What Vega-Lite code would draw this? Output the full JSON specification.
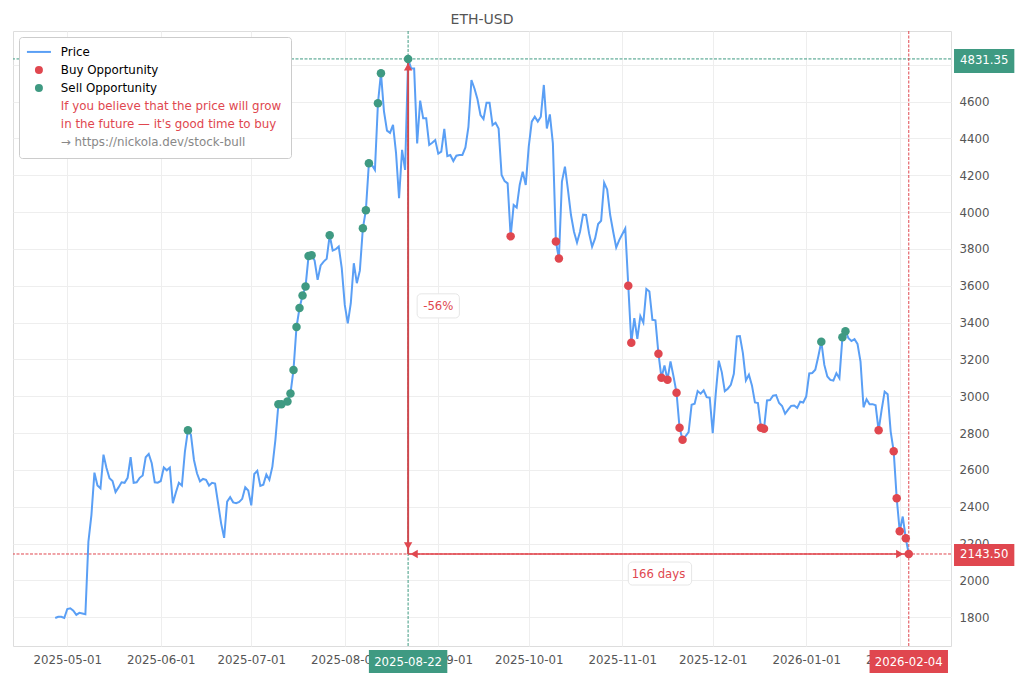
{
  "$schema": "https://vega.github.io/schema/vega-lite/v6.json",
  "autosize": {"type": "none"},
  "padding": {"left": 13, "top": 31, "right": 69, "bottom": 34},
  "width": 938,
  "height": 615,
  "background": "white",
  "title": {"text": "ETH-USD", "fontSize": 14, "fontWeight": "normal", "color": "#555555", "anchor": "middle", "offset": 4},
  "datasets": {
    "prices": [
      {"date":"2025-04-27","price":1796},{"date":"2025-04-28","price":1803},{"date":"2025-04-29","price":1803},{"date":"2025-04-30","price":1796},
      {"date":"2025-05-01","price":1845},{"date":"2025-05-02","price":1849},{"date":"2025-05-03","price":1836},{"date":"2025-05-04","price":1813},{"date":"2025-05-05","price":1824},{"date":"2025-05-06","price":1820},{"date":"2025-05-07","price":1816},{"date":"2025-05-08","price":2210},{"date":"2025-05-09","price":2355},{"date":"2025-05-10","price":2585},{"date":"2025-05-11","price":2515},{"date":"2025-05-12","price":2500},{"date":"2025-05-13","price":2683},{"date":"2025-05-14","price":2610},{"date":"2025-05-15","price":2555},{"date":"2025-05-16","price":2540},{"date":"2025-05-17","price":2480},{"date":"2025-05-18","price":2505},{"date":"2025-05-19","price":2533},{"date":"2025-05-20","price":2530},{"date":"2025-05-21","price":2557},{"date":"2025-05-22","price":2669},{"date":"2025-05-23","price":2530},{"date":"2025-05-24","price":2533},{"date":"2025-05-25","price":2557},{"date":"2025-05-26","price":2570},{"date":"2025-05-27","price":2669},{"date":"2025-05-28","price":2687},{"date":"2025-05-29","price":2636},{"date":"2025-05-30","price":2533},{"date":"2025-05-31","price":2531},
      {"date":"2025-06-01","price":2540},{"date":"2025-06-02","price":2613},{"date":"2025-06-03","price":2598},{"date":"2025-06-04","price":2613},{"date":"2025-06-05","price":2419},{"date":"2025-06-06","price":2477},{"date":"2025-06-07","price":2530},{"date":"2025-06-08","price":2515},{"date":"2025-06-09","price":2700},{"date":"2025-06-10","price":2815},{"date":"2025-06-11","price":2790},{"date":"2025-06-12","price":2654},{"date":"2025-06-13","price":2582},{"date":"2025-06-14","price":2538},{"date":"2025-06-15","price":2551},{"date":"2025-06-16","price":2546},{"date":"2025-06-17","price":2515},{"date":"2025-06-18","price":2530},{"date":"2025-06-19","price":2526},{"date":"2025-06-20","price":2419},{"date":"2025-06-21","price":2310},{"date":"2025-06-22","price":2231},{"date":"2025-06-23","price":2428},{"date":"2025-06-24","price":2452},{"date":"2025-06-25","price":2424},{"date":"2025-06-26","price":2419},{"date":"2025-06-27","price":2426},{"date":"2025-06-28","price":2443},{"date":"2025-06-29","price":2506},{"date":"2025-06-30","price":2488},
      {"date":"2025-07-01","price":2408},{"date":"2025-07-02","price":2578},{"date":"2025-07-03","price":2595},{"date":"2025-07-04","price":2513},{"date":"2025-07-05","price":2520},{"date":"2025-07-06","price":2575},{"date":"2025-07-07","price":2546},{"date":"2025-07-08","price":2618},{"date":"2025-07-09","price":2763},{"date":"2025-07-10","price":2957},{"date":"2025-07-11","price":2957},{"date":"2025-07-12","price":2965},{"date":"2025-07-13","price":2972},{"date":"2025-07-14","price":3015},{"date":"2025-07-15","price":3143},{"date":"2025-07-16","price":3376},{"date":"2025-07-17","price":3479},{"date":"2025-07-18","price":3547},{"date":"2025-07-19","price":3596},{"date":"2025-07-20","price":3762},{"date":"2025-07-21","price":3766},{"date":"2025-07-22","price":3737},{"date":"2025-07-23","price":3632},{"date":"2025-07-24","price":3710},{"date":"2025-07-25","price":3731},{"date":"2025-07-26","price":3746},{"date":"2025-07-27","price":3874},{"date":"2025-07-28","price":3791},{"date":"2025-07-29","price":3798},{"date":"2025-07-30","price":3813},{"date":"2025-07-31","price":3695},
      {"date":"2025-08-01","price":3496},{"date":"2025-08-02","price":3396},{"date":"2025-08-03","price":3505},{"date":"2025-08-04","price":3722},{"date":"2025-08-05","price":3614},{"date":"2025-08-06","price":3682},{"date":"2025-08-07","price":3912},{"date":"2025-08-08","price":4010},{"date":"2025-08-09","price":4265},{"date":"2025-08-10","price":4256},{"date":"2025-08-11","price":4229},{"date":"2025-08-12","price":4591},{"date":"2025-08-13","price":4754},{"date":"2025-08-14","price":4546},{"date":"2025-08-15","price":4442},{"date":"2025-08-16","price":4430},{"date":"2025-08-17","price":4473},{"date":"2025-08-18","price":4320},{"date":"2025-08-19","price":4075},{"date":"2025-08-20","price":4338},{"date":"2025-08-21","price":4229},{"date":"2025-08-22","price":4831.35},{"date":"2025-08-23","price":4780},{"date":"2025-08-24","price":4780},{"date":"2025-08-25","price":4373},{"date":"2025-08-26","price":4605},{"date":"2025-08-27","price":4509},{"date":"2025-08-28","price":4509},{"date":"2025-08-29","price":4364},{"date":"2025-08-30","price":4376},{"date":"2025-08-31","price":4391},
      {"date":"2025-09-01","price":4317},{"date":"2025-09-02","price":4328},{"date":"2025-09-03","price":4452},{"date":"2025-09-04","price":4304},{"date":"2025-09-05","price":4310},{"date":"2025-09-06","price":4277},{"date":"2025-09-07","price":4306},{"date":"2025-09-08","price":4310},{"date":"2025-09-09","price":4310},{"date":"2025-09-10","price":4351},{"date":"2025-09-11","price":4463},{"date":"2025-09-12","price":4717},{"date":"2025-09-13","price":4671},{"date":"2025-09-14","price":4612},{"date":"2025-09-15","price":4527},{"date":"2025-09-16","price":4505},{"date":"2025-09-17","price":4594},{"date":"2025-09-18","price":4594},{"date":"2025-09-19","price":4472},{"date":"2025-09-20","price":4485},{"date":"2025-09-21","price":4454},{"date":"2025-09-22","price":4201},{"date":"2025-09-23","price":4168},{"date":"2025-09-24","price":4156},{"date":"2025-09-25","price":3868},{"date":"2025-09-26","price":4038},{"date":"2025-09-27","price":4024},{"date":"2025-09-28","price":4147},{"date":"2025-09-29","price":4219},{"date":"2025-09-30","price":4147},
      {"date":"2025-10-01","price":4355},{"date":"2025-10-02","price":4491},{"date":"2025-10-03","price":4518},{"date":"2025-10-04","price":4491},{"date":"2025-10-05","price":4518},{"date":"2025-10-06","price":4690},{"date":"2025-10-07","price":4454},{"date":"2025-10-08","price":4530},{"date":"2025-10-09","price":4373},{"date":"2025-10-10","price":3840},{"date":"2025-10-11","price":3748},{"date":"2025-10-12","price":4165},{"date":"2025-10-13","price":4246},{"date":"2025-10-14","price":4120},{"date":"2025-10-15","price":3984},{"date":"2025-10-16","price":3893},{"date":"2025-10-17","price":3835},{"date":"2025-10-18","price":3893},{"date":"2025-10-19","price":3986},{"date":"2025-10-20","price":3984},{"date":"2025-10-21","price":3884},{"date":"2025-10-22","price":3812},{"date":"2025-10-23","price":3857},{"date":"2025-10-24","price":3935},{"date":"2025-10-25","price":3953},{"date":"2025-10-26","price":4159},{"date":"2025-10-27","price":4123},{"date":"2025-10-28","price":3984},{"date":"2025-10-29","price":3893},{"date":"2025-10-30","price":3808},{"date":"2025-10-31","price":3848},
      {"date":"2025-11-01","price":3879},{"date":"2025-11-02","price":3911},{"date":"2025-11-03","price":3600},{"date":"2025-11-04","price":3290},{"date":"2025-11-05","price":3424},{"date":"2025-11-06","price":3312},{"date":"2025-11-07","price":3435},{"date":"2025-11-08","price":3399},{"date":"2025-11-09","price":3582},{"date":"2025-11-10","price":3569},{"date":"2025-11-11","price":3415},{"date":"2025-11-12","price":3412},{"date":"2025-11-13","price":3231},{"date":"2025-11-14","price":3100},{"date":"2025-11-15","price":3167},{"date":"2025-11-16","price":3090},{"date":"2025-11-17","price":3189},{"date":"2025-11-18","price":3108},{"date":"2025-11-19","price":3019},{"date":"2025-11-20","price":2829},{"date":"2025-11-21","price":2764},{"date":"2025-11-22","price":2784},{"date":"2025-11-23","price":2805},{"date":"2025-11-24","price":2954},{"date":"2025-11-25","price":2959},{"date":"2025-11-26","price":3028},{"date":"2025-11-27","price":3014},{"date":"2025-11-28","price":3032},{"date":"2025-11-29","price":2995},{"date":"2025-11-30","price":2992},
      {"date":"2025-12-01","price":2800},{"date":"2025-12-02","price":3014},{"date":"2025-12-03","price":3193},{"date":"2025-12-04","price":3131},{"date":"2025-12-05","price":3028},{"date":"2025-12-06","price":3041},{"date":"2025-12-07","price":3062},{"date":"2025-12-08","price":3122},{"date":"2025-12-09","price":3325},{"date":"2025-12-10","price":3327},{"date":"2025-12-11","price":3234},{"date":"2025-12-12","price":3086},{"date":"2025-12-13","price":3117},{"date":"2025-12-14","price":3059},{"date":"2025-12-15","price":2966},{"date":"2025-12-16","price":2963},{"date":"2025-12-17","price":2829},{"date":"2025-12-18","price":2823},{"date":"2025-12-19","price":2977},{"date":"2025-12-20","price":2979},{"date":"2025-12-21","price":3003},{"date":"2025-12-22","price":3006},{"date":"2025-12-23","price":2963},{"date":"2025-12-24","price":2947},{"date":"2025-12-25","price":2905},{"date":"2025-12-26","price":2927},{"date":"2025-12-27","price":2948},{"date":"2025-12-28","price":2950},{"date":"2025-12-29","price":2937},{"date":"2025-12-30","price":2970},{"date":"2025-12-31","price":2966},
      {"date":"2026-01-01","price":2999},{"date":"2026-01-02","price":3124},{"date":"2026-01-03","price":3126},{"date":"2026-01-04","price":3144},{"date":"2026-01-05","price":3216},{"date":"2026-01-06","price":3296},{"date":"2026-01-07","price":3170},{"date":"2026-01-08","price":3107},{"date":"2026-01-09","price":3089},{"date":"2026-01-10","price":3085},{"date":"2026-01-11","price":3125},{"date":"2026-01-12","price":3098},{"date":"2026-01-13","price":3320},{"date":"2026-01-14","price":3353},{"date":"2026-01-15","price":3315},{"date":"2026-01-16","price":3300},{"date":"2026-01-17","price":3310},{"date":"2026-01-18","price":3284},{"date":"2026-01-19","price":3188},{"date":"2026-01-20","price":2940},{"date":"2026-01-21","price":2984},{"date":"2026-01-22","price":2957},{"date":"2026-01-23","price":2957},{"date":"2026-01-24","price":2951},{"date":"2026-01-25","price":2815},{"date":"2026-01-26","price":2926},{"date":"2026-01-27","price":3025},{"date":"2026-01-28","price":3011},{"date":"2026-01-29","price":2808},{"date":"2026-01-30","price":2701},{"date":"2026-01-31","price":2446},
      {"date":"2026-02-01","price":2267},{"date":"2026-02-02","price":2347},{"date":"2026-02-03","price":2229},{"date":"2026-02-04","price":2143.5}
    ],
    "signals": [
      {"date":"2025-06-10","price":2815,"series":"Sell Opportunity"},{"date":"2025-07-10","price":2957,"series":"Sell Opportunity"},{"date":"2025-07-11","price":2957,"series":"Sell Opportunity"},{"date":"2025-07-13","price":2972,"series":"Sell Opportunity"},{"date":"2025-07-14","price":3015,"series":"Sell Opportunity"},{"date":"2025-07-15","price":3143,"series":"Sell Opportunity"},{"date":"2025-07-16","price":3376,"series":"Sell Opportunity"},{"date":"2025-07-17","price":3479,"series":"Sell Opportunity"},{"date":"2025-07-18","price":3547,"series":"Sell Opportunity"},{"date":"2025-07-19","price":3596,"series":"Sell Opportunity"},{"date":"2025-07-20","price":3762,"series":"Sell Opportunity"},{"date":"2025-07-21","price":3766,"series":"Sell Opportunity"},{"date":"2025-07-27","price":3874,"series":"Sell Opportunity"},{"date":"2025-08-07","price":3912,"series":"Sell Opportunity"},{"date":"2025-08-08","price":4010,"series":"Sell Opportunity"},{"date":"2025-08-09","price":4265,"series":"Sell Opportunity"},{"date":"2025-08-12","price":4591,"series":"Sell Opportunity"},{"date":"2025-08-13","price":4754,"series":"Sell Opportunity"},{"date":"2025-08-22","price":4831.35,"series":"Sell Opportunity"},{"date":"2026-01-06","price":3296,"series":"Sell Opportunity"},{"date":"2026-01-13","price":3320,"series":"Sell Opportunity"},{"date":"2026-01-14","price":3353,"series":"Sell Opportunity"},
      {"date":"2025-09-25","price":3868,"series":"Buy Opportunity"},{"date":"2025-10-10","price":3840,"series":"Buy Opportunity"},{"date":"2025-10-11","price":3748,"series":"Buy Opportunity"},{"date":"2025-11-03","price":3600,"series":"Buy Opportunity"},{"date":"2025-11-04","price":3290,"series":"Buy Opportunity"},{"date":"2025-11-13","price":3231,"series":"Buy Opportunity"},{"date":"2025-11-14","price":3100,"series":"Buy Opportunity"},{"date":"2025-11-16","price":3090,"series":"Buy Opportunity"},{"date":"2025-11-19","price":3019,"series":"Buy Opportunity"},{"date":"2025-11-20","price":2829,"series":"Buy Opportunity"},{"date":"2025-11-21","price":2764,"series":"Buy Opportunity"},{"date":"2025-12-17","price":2829,"series":"Buy Opportunity"},{"date":"2025-12-18","price":2823,"series":"Buy Opportunity"},{"date":"2026-01-25","price":2815,"series":"Buy Opportunity"},{"date":"2026-01-30","price":2701,"series":"Buy Opportunity"},{"date":"2026-01-31","price":2446,"series":"Buy Opportunity"},{"date":"2026-02-01","price":2267,"series":"Buy Opportunity"},{"date":"2026-02-03","price":2229,"series":"Buy Opportunity"},{"date":"2026-02-04","price":2143.5,"series":"Buy Opportunity"}
    ],
    "levels": [
      {"date":"2025-08-22","price":4831.35,"side":"sell"},
      {"date":"2026-02-04","price":2143.5,"side":"buy"}
    ],
    "tags": [
      {"start":"2026-02-19","end":"2026-03-11","date":"2026-03-01","low":4755,"high":4885,"mid":4824,"label":"4831.35","side":"sell"},
      {"start":"2026-02-19","end":"2026-03-11","date":"2026-03-01","low":2079,"high":2198,"mid":2143.5,"label":"2143.50","side":"buy"},
      {"start":"2025-08-09","end":"2025-09-04","date":"2025-08-22","low":1498,"high":1622,"mid":1558,"label":"2025-08-22","side":"sell"},
      {"start":"2026-01-22","end":"2026-02-17","date":"2026-02-04","low":1498,"high":1622,"mid":1558,"label":"2026-02-04","side":"buy"}
    ],
    "notes": [
      {"start":"2025-08-25","end":"2025-09-08","date":"2025-09-01","low":3425,"high":3556,"mid":3490,"label":"-56%"},
      {"start":"2025-11-03","end":"2025-11-24","date":"2025-11-13","low":1975,"high":2100,"mid":2035,"label":"166 days"}
    ]
  },
  "encoding": {
    "x": {
      "field": "date", "type": "temporal", "title": null,
      "scale": {"type": "utc", "domain": [{"year":2025,"month":4,"date":13,"utc":true},{"year":2026,"month":2,"date":18,"utc":true}]},
      "axis": {
        "format": "%Y-%m-%d", "labelOverlap": false, "labelFlush": false, "ticks": false, "domain": false,
        "labelPadding": 8, "labelFontSize": 11.8, "labelColor": "#555555", "gridColor": "#eeeeee",
        "values": [{"year":2025,"month":5,"date":1,"utc":true},{"year":2025,"month":6,"date":1,"utc":true},{"year":2025,"month":7,"date":1,"utc":true},{"year":2025,"month":8,"date":1,"utc":true},{"year":2025,"month":9,"date":1,"utc":true},{"year":2025,"month":10,"date":1,"utc":true},{"year":2025,"month":11,"date":1,"utc":true},{"year":2025,"month":12,"date":1,"utc":true},{"year":2026,"month":1,"date":1,"utc":true},{"year":2026,"month":2,"date":1,"utc":true}]
      }
    },
    "y": {
      "field": "price", "type": "quantitative", "title": null,
      "scale": {"domain": [1644, 4983], "nice": false, "zero": false},
      "axis": {
        "orient": "right", "ticks": false, "domain": false, "labelPadding": 8, "labelFontSize": 11.8, "labelColor": "#555555", "gridColor": "#eeeeee",
        "values": [1800,2000,2200,2400,2600,2800,3000,3200,3400,3600,3800,4000,4200,4400,4600,4800], "format": "d"
      }
    }
  },
  "layer": [
    {
      "data": {"name": "levels"},
      "mark": {"type": "rule", "strokeWidth": 1, "strokeDash": [3, 1.5], "clip": false},
      "encoding": {
        "y": {"field": "price", "type": "quantitative"},
        "x": null,
        "stroke": {"field": "side", "type": "nominal", "scale": {"domain": ["sell", "buy"], "range": ["#3f9a82", "#e0474f"]}, "legend": null}
      }
    },
    {
      "data": {"name": "levels"},
      "mark": {"type": "rule", "strokeWidth": 1, "strokeDash": [3, 1.5], "clip": false},
      "encoding": {
        "y": null,
        "stroke": {"field": "side", "type": "nominal", "legend": null}
      }
    },
    {
      "data": {"name": "prices"},
      "mark": {"type": "line", "color": "#5a9ff5", "strokeWidth": 2}
    },
    {
      "data": {"values": [{"date": "2025-08-22", "price": 4831.35, "price2": 2143.5}]},
      "mark": {"type": "rule", "color": "#cf4a50", "strokeWidth": 2},
      "encoding": {"y2": {"field": "price2"}}
    },
    {
      "data": {"values": [{"date": "2025-08-22", "date2": "2026-02-04", "price": 2143.5}]},
      "mark": {"type": "rule", "color": "#e0474f", "strokeWidth": 1.5},
      "encoding": {"x2": {"field": "date2"}}
    },
    {
      "data": {"values": [{"date": "2025-08-22", "price": 4788}]},
      "mark": {"type": "point", "shape": "triangle-up", "filled": true, "opacity": 1, "size": 70, "color": "#e0474f"}
    },
    {
      "data": {"values": [{"date": "2025-08-22", "price": 2187}]},
      "mark": {"type": "point", "shape": "triangle-down", "filled": true, "opacity": 1, "size": 70, "color": "#e0474f"}
    },
    {
      "data": {"values": [{"date": "2025-08-24", "price": 2143.5}]},
      "mark": {"type": "point", "shape": "triangle-left", "filled": true, "opacity": 1, "size": 70, "color": "#e0474f"}
    },
    {
      "data": {"values": [{"date": "2026-02-01", "price": 2143.5}]},
      "mark": {"type": "point", "shape": "triangle-right", "filled": true, "opacity": 1, "size": 70, "color": "#e0474f"}
    },
    {
      "data": {"name": "signals"},
      "mark": {"type": "point", "filled": true, "opacity": 1, "size": 72},
      "encoding": {
        "color": {
          "field": "series", "type": "nominal",
          "scale": {
            "domain": ["Price", "Buy Opportunity", "Sell Opportunity", "If you believe that the price will grow", "in the future — it's good time to buy", "→ https://nickola.dev/stock-bull"],
            "range": ["#5a9ff5", "#e0474f", "#3f9a82", "transparent", "transparent", "transparent"]
          },
          "legend": {
            "title": null, "orient": "none", "legendX": 6, "legendY": 6, "padding": 9,
            "fillColor": "white", "strokeColor": "#cccccc", "cornerRadius": 3,
            "labelFontSize": 11.85, "labelLimit": 320, "labelOffset": 16, "symbolOffset": 5, "symbolSize": 64, "rowPadding": 5, "symbolStrokeWidth": 0,
            "labelColor": {"expr": "test(/^(If|in)/, datum.label) ? '#e0474f' : test(/^→/, datum.label) ? '#888888' : '#000000'"}
          }
        },
        "shape": {
          "field": "series", "type": "nominal",
          "scale": {
            "domain": ["Price", "Buy Opportunity", "Sell Opportunity", "If you believe that the price will grow", "in the future — it's good time to buy", "→ https://nickola.dev/stock-bull"],
            "range": ["M-3,-0.25H3V0.25H-3Z", "circle", "circle", "circle", "circle", "circle"]
          }
        }
      }
    },
    {
      "data": {"name": "tags"},
      "mark": {"type": "rect", "clip": false},
      "encoding": {
        "x": {"field": "start", "type": "temporal"},
        "x2": {"field": "end"},
        "y": {"field": "low", "type": "quantitative"},
        "y2": {"field": "high"},
        "fill": {"field": "side", "type": "nominal", "scale": {"domain": ["sell", "buy"], "range": ["#3f9a82", "#e0474f"]}, "legend": null}
      }
    },
    {
      "data": {"name": "tags"},
      "mark": {"type": "text", "fill": "#ffffff", "fontSize": 11.7, "clip": false},
      "encoding": {
        "y": {"field": "mid", "type": "quantitative"},
        "text": {"field": "label"}
      }
    },
    {
      "data": {"name": "notes"},
      "mark": {"type": "rect", "fill": "white", "stroke": "#e6e6e6", "strokeWidth": 1, "cornerRadius": 4},
      "encoding": {
        "x": {"field": "start", "type": "temporal"},
        "x2": {"field": "end"},
        "y": {"field": "low", "type": "quantitative"},
        "y2": {"field": "high"}
      }
    },
    {
      "data": {"name": "notes"},
      "mark": {"type": "text", "color": "#e0474f", "fontSize": 11.7},
      "encoding": {
        "y": {"field": "mid", "type": "quantitative"},
        "text": {"field": "label"}
      }
    }
  ],
  "config": {
    "font": "DejaVu Sans",
    "view": {"stroke": "#dddddd"}
  }
}
